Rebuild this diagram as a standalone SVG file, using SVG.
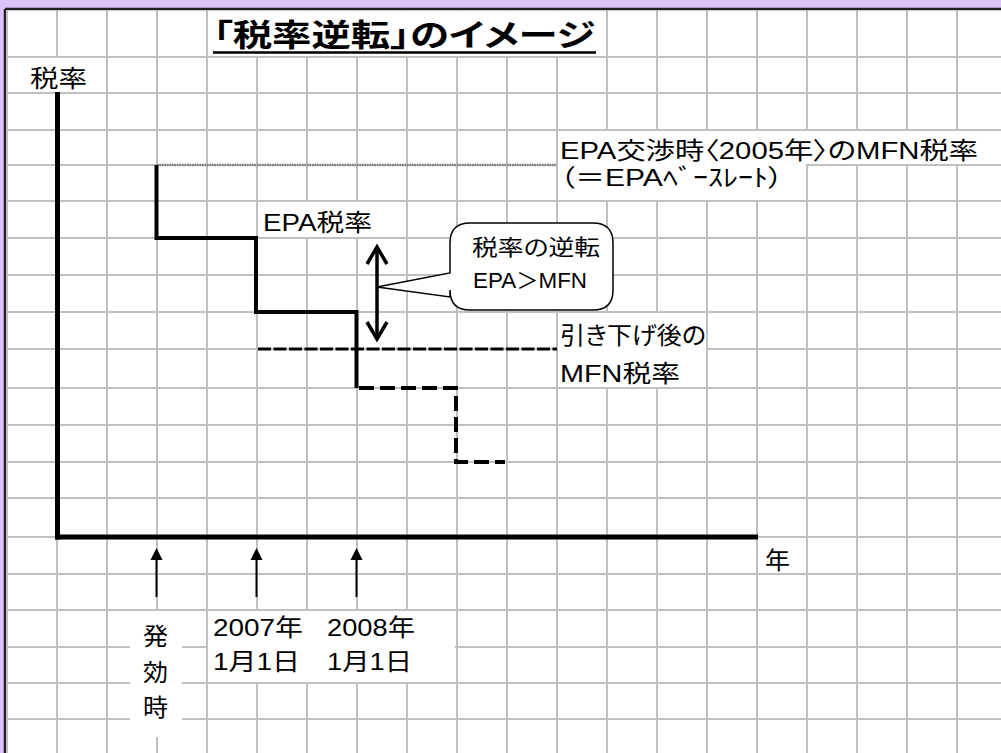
<svg xmlns="http://www.w3.org/2000/svg" width="1001" height="753" viewBox="0 0 1001 753">
<defs>
<style>
.t{font-family:"Liberation Sans","Noto Sans CJK JP",sans-serif;font-size:24px;fill:#000;font-feature-settings:"palt"}
.grid line{stroke:#c0c0c0;stroke-width:2}
.mask{fill:#fff}
.thick{stroke:#000;stroke-width:4;fill:none}
.dash{stroke:#000;stroke-width:4;fill:none;stroke-dasharray:15,6}
</style>
</defs>
<rect x="0" y="0" width="1001" height="753" fill="#dbc3f9"/>
<rect x="6" y="10" width="995" height="743" fill="#fff"/>
<line x1="5" y1="9" x2="1001" y2="9" stroke="#222" stroke-width="2.5"/>
<line x1="5" y1="9" x2="5" y2="753" stroke="#222" stroke-width="2.5"/>
<g class="grid">
<line x1="7" y1="10" x2="7" y2="753"/>
<line x1="57" y1="10" x2="57" y2="753"/>
<line x1="107" y1="10" x2="107" y2="753"/>
<line x1="157" y1="10" x2="157" y2="753"/>
<line x1="207" y1="10" x2="207" y2="753"/>
<line x1="257" y1="10" x2="257" y2="753"/>
<line x1="307" y1="10" x2="307" y2="753"/>
<line x1="357" y1="10" x2="357" y2="753"/>
<line x1="407" y1="10" x2="407" y2="753"/>
<line x1="457" y1="10" x2="457" y2="753"/>
<line x1="507" y1="10" x2="507" y2="753"/>
<line x1="557" y1="10" x2="557" y2="753"/>
<line x1="607" y1="10" x2="607" y2="753"/>
<line x1="657" y1="10" x2="657" y2="753"/>
<line x1="707" y1="10" x2="707" y2="753"/>
<line x1="757" y1="10" x2="757" y2="753"/>
<line x1="807" y1="10" x2="807" y2="753"/>
<line x1="857" y1="10" x2="857" y2="753"/>
<line x1="907" y1="10" x2="907" y2="753"/>
<line x1="957" y1="10" x2="957" y2="753"/>
<line x1="7" y1="57" x2="1001" y2="57"/>
<line x1="7" y1="93" x2="1001" y2="93"/>
<line x1="7" y1="130" x2="1001" y2="130"/>
<line x1="7" y1="165" x2="1001" y2="165"/>
<line x1="7" y1="201" x2="1001" y2="201"/>
<line x1="7" y1="238" x2="1001" y2="238"/>
<line x1="7" y1="275" x2="1001" y2="275"/>
<line x1="7" y1="312" x2="1001" y2="312"/>
<line x1="7" y1="349" x2="1001" y2="349"/>
<line x1="7" y1="388" x2="1001" y2="388"/>
<line x1="7" y1="425" x2="1001" y2="425"/>
<line x1="7" y1="462" x2="1001" y2="462"/>
<line x1="7" y1="498" x2="1001" y2="498"/>
<line x1="7" y1="537" x2="1001" y2="537"/>
<line x1="7" y1="574" x2="1001" y2="574"/>
<line x1="7" y1="610" x2="1001" y2="610"/>
<line x1="7" y1="647" x2="1001" y2="647"/>
<line x1="7" y1="683" x2="1001" y2="683"/>
<line x1="7" y1="719" x2="1001" y2="719"/>
</g>
<g id="title">
<rect class="mask" x="209" y="11" width="397" height="45"/>
<text class="t" x="213" y="46" style="font-size:31px;font-weight:bold" textLength="382" lengthAdjust="spacingAndGlyphs">「税率逆転」のイメージ</text>
<line x1="213" y1="52.5" x2="596" y2="52.5" stroke="#000" stroke-width="2.5"/>
</g>
<g id="y-label">
<rect class="mask" x="8" y="58" width="98" height="34"/>
<text class="t" x="30" y="87" textLength="57" lengthAdjust="spacingAndGlyphs">税率</text>
</g>
<g id="mfn-base-label">
<rect class="mask" x="558" y="131" width="443" height="33"/>
<rect class="mask" x="558" y="164" width="248" height="36"/>
<text class="t" x="560" y="159" textLength="418" lengthAdjust="spacingAndGlyphs">EPA交渉時〈2005年〉のMFN税率</text>
<text class="t" x="560" y="186" textLength="223" lengthAdjust="spacingAndGlyphs">（＝EPAﾍﾞｰｽﾚｰﾄ）</text>
</g>
<g id="epa-label">
<rect class="mask" x="258" y="202" width="148" height="35"/>
<text class="t" x="263" y="231" textLength="109" lengthAdjust="spacingAndGlyphs">EPA税率</text>
</g>
<g id="mfn-after-label">
<rect class="mask" x="558" y="313" width="148" height="74"/>
<text class="t" x="560" y="344" textLength="146" lengthAdjust="spacingAndGlyphs">引き下げ後の</text>
<text class="t" x="560" y="382" textLength="120" lengthAdjust="spacingAndGlyphs">MFN税率</text>
</g>
<g id="x-label">
<text class="t" x="765" y="569" textLength="25" lengthAdjust="spacingAndGlyphs">年</text>
</g>
<g id="start-label">
<rect class="mask" x="130" y="611" width="52" height="126"/>
<text class="t" x="143" y="645" textLength="25" lengthAdjust="spacingAndGlyphs">発</text>
<text class="t" x="143" y="681" textLength="25" lengthAdjust="spacingAndGlyphs">効</text>
<text class="t" x="143" y="716" textLength="25" lengthAdjust="spacingAndGlyphs">時</text>
</g>
<g id="date-labels">
<rect class="mask" x="208" y="611" width="247" height="71"/>
<text class="t" x="213" y="636" textLength="90" lengthAdjust="spacingAndGlyphs">2007年</text>
<text class="t" x="213" y="670" textLength="87" lengthAdjust="spacingAndGlyphs">1月1日</text>
<text class="t" x="327" y="636" textLength="88" lengthAdjust="spacingAndGlyphs">2008年</text>
<text class="t" x="327" y="670" textLength="85" lengthAdjust="spacingAndGlyphs">1月1日</text>
</g>
<g id="connectors">
<line x1="157" y1="165" x2="557" y2="165" stroke="#7a7a7a" stroke-width="2.5" stroke-dasharray="1.5,1"/>
<line x1="258" y1="349" x2="557" y2="349" stroke="#000" stroke-width="3" stroke-dasharray="13,2.5"/>
<polyline class="thick" points="156.5,165 156.5,238 256,238 256,312 356.5,312 356.5,388"/>
<polyline class="dash" points="359,388 456,388 456,462 505,462"/>
<line x1="57.5" y1="92" x2="57.5" y2="539.5" stroke="#000" stroke-width="5"/>
<line x1="55" y1="537" x2="758" y2="537" stroke="#000" stroke-width="5"/>
<line x1="377" y1="247" x2="377" y2="339" stroke="#000" stroke-width="3.5"/>
<polyline points="367,264 377,247 387,264" fill="none" stroke="#000" stroke-width="3.5"/>
<polyline points="367,322 377,339 387,322" fill="none" stroke="#000" stroke-width="3.5"/>
<line x1="156.5" y1="597" x2="156.5" y2="558" stroke="#000" stroke-width="2"/>
<polygon points="150.5,560 156.5,548 162.5,560" fill="#000"/>
<line x1="256.5" y1="597" x2="256.5" y2="558" stroke="#000" stroke-width="2"/>
<polygon points="250.5,560 256.5,548 262.5,560" fill="#000"/>
<line x1="356.5" y1="597" x2="356.5" y2="558" stroke="#000" stroke-width="2"/>
<polygon points="350.5,560 356.5,548 362.5,560" fill="#000"/>
</g>
<g id="callout">
<path d="M470,223 H593 Q613,223 613,243 V290 Q613,310 593,310 H470 Q450,310 450,290 V297 L377,287 L450,273 V243 Q450,223 470,223 Z" fill="#fff" stroke="#000" stroke-width="1.5"/>
<text class="t" x="472" y="255" style="font-size:22px" textLength="128" lengthAdjust="spacingAndGlyphs">税率の逆転</text>
<text class="t" x="473" y="288" style="font-size:22px" textLength="114" lengthAdjust="spacingAndGlyphs">EPA＞MFN</text>
</g>
</svg>
